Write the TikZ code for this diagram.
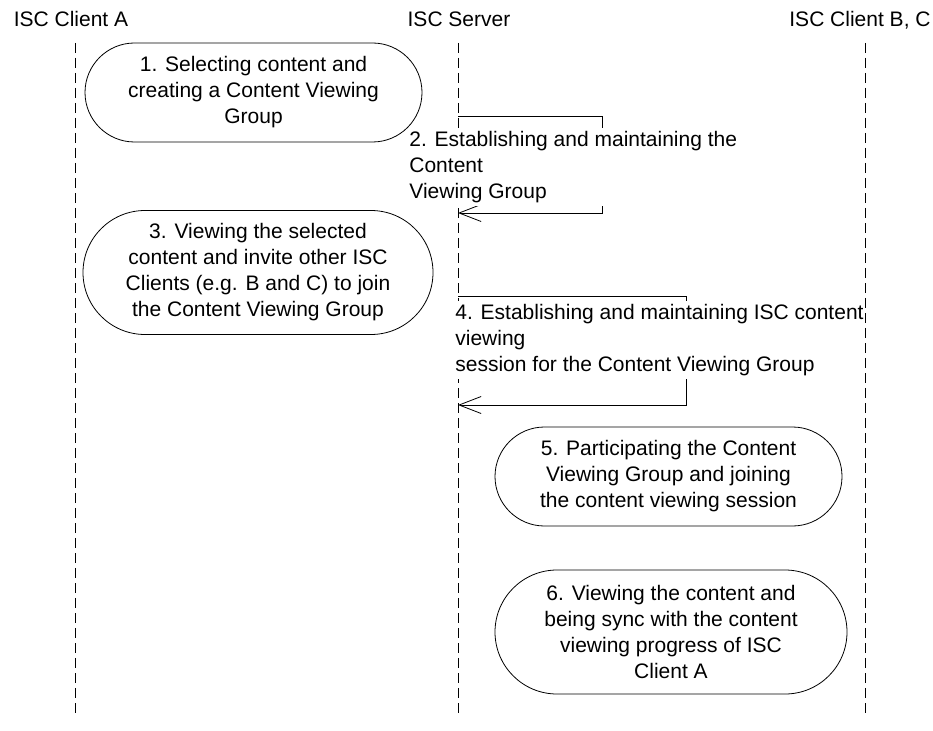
\documentclass[tikz,border=0pt]{standalone}
\usepackage{fontspec}
\setmainfont{Liberation Sans}
\usetikzlibrary{arrows.meta}

\begin{document}
\begin{tikzpicture}[x=1pt,y=-1pt,line width=0.8pt,
  font={\fontsize{21}{26}\selectfont},
  lifeline/.style={dash pattern=on 10pt off 5pt},
  stadium/.style={draw,align=center,inner sep=0pt},
  msgtext/.style={align=left,anchor=west,fill=white,inner xsep=0pt,inner ysep=3pt},
  msg/.style={-{Straight Barb[length=22pt,width=17pt,line width=0.8pt]}}]
\useasboundingbox (0,0) rectangle (933,730);
\node[anchor=base] (clientA) at (71,27) {ISC Client A};
\node[anchor=base] (server) at (459,27) {ISC Server};
\node[anchor=base] (clientBC) at (860,27) {ISC Client B, C};
\coordinate (clientAtop) at (75,43);
\coordinate (clientAbot) at (75,715);
\coordinate (servertop) at (458,43);
\coordinate (serverbot) at (458,715);
\coordinate (clientBCtop) at (865,43);
\coordinate (clientBCbot) at (865,715);
\draw[lifeline] (clientAtop) -- (clientAbot);
\draw[lifeline] (servertop) -- (serverbot);
\draw[lifeline] (clientBCtop) -- (clientBCbot);
\node[stadium,minimum width=337pt,minimum height=99pt,rounded corners=49.5pt] (step1) at (253.5,92.5) {1. Selecting content and\\creating a Content Viewing\\Group};
\coordinate (m2start) at (458,116);
\coordinate (m2turn) at (602,116);
\coordinate (m2end) at (458,213);
\draw[msg] (m2start) -- (m2turn) |- (m2end);
\node[msgtext] (step2) at (409,167) {2. Establishing and maintaining the\\Content\\Viewing Group};
\node[stadium,minimum width=350pt,minimum height=124pt,rounded corners=62pt] (step3) at (258,272.5) {3. Viewing the selected\\content and invite other ISC\\Clients (e.g. B and C) to join\\the Content Viewing Group};
\coordinate (m4start) at (458,296);
\coordinate (m4turn) at (686,296);
\coordinate (m4end) at (458,405);
\draw[msg] (m4start) -- (m4turn) |- (m4end);
\node[msgtext] (step4) at (455,340) {4. Establishing and maintaining ISC content\\viewing\\session for the Content Viewing Group};
\node[stadium,minimum width=347pt,minimum height=99pt,rounded corners=49.5pt] (step5) at (668.5,476.5) {5. Participating the Content\\Viewing Group and joining\\the content viewing session};
\node[stadium,minimum width=352pt,minimum height=124pt,rounded corners=62pt] (step6) at (671,632) {6. Viewing the content and\\being sync with the content\\viewing progress of ISC\\Client A};
\end{tikzpicture}
\end{document}
